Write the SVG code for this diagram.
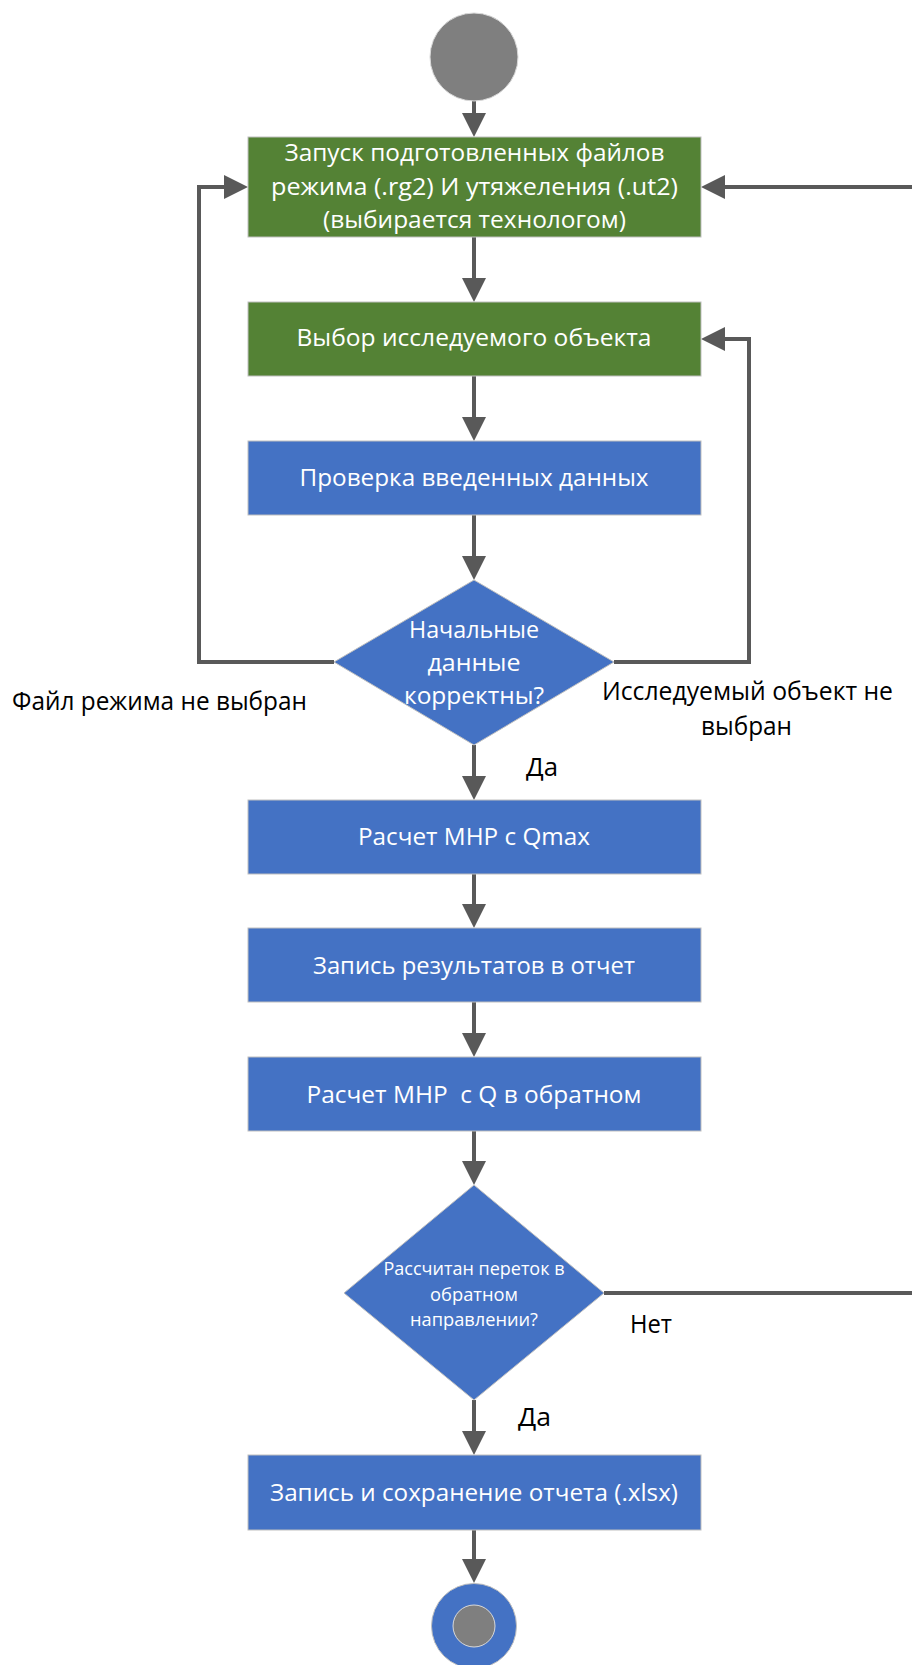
<svg xmlns="http://www.w3.org/2000/svg" width="912" height="1665" viewBox="0 0 912 1665">
<style>
.green{fill:#548235;stroke:#bfbfbf;stroke-width:1}
.blue{fill:#4472c4;stroke:#bfbfbf;stroke-width:1}
.nt{font-family:"Open Sans","Liberation Sans",sans-serif;font-size:23px;fill:#ffffff;text-anchor:middle}
.ds{font-family:"Open Sans","Liberation Sans",sans-serif;font-size:18px;fill:#ffffff;text-anchor:middle}
.lb{font-family:"Open Sans","Liberation Sans",sans-serif;font-size:25px;fill:#000000}
.cn{fill:none;stroke:#595959;stroke-width:4;marker-end:url(#arr)}
</style>
<defs>
<marker id="arr" markerUnits="userSpaceOnUse" markerWidth="24" markerHeight="24" refX="0" refY="12" orient="auto" overflow="visible">
<path d="M0,0 L24,12 L0,24 Z" fill="#595959"/>
</marker>
</defs>
<rect width="912" height="1665" fill="#ffffff"/>
<g id="connectors">
<path class="cn" d="M474,101 V113"/>
<path class="cn" d="M474,237 V278"/>
<path class="cn" d="M474,376 V417"/>
<path class="cn" d="M474,515 V556"/>
<path class="cn" d="M334,662 H199 V187 H224"/>
<path class="cn" d="M614,662 H749 V339 H725"/>
<path class="cn" d="M474,745 V776"/>
<path class="cn" d="M474,874 V904"/>
<path class="cn" d="M474,1002 V1033"/>
<path class="cn" d="M474,1131 V1161"/>
<path class="cn" d="M604,1293 H940 V187 H725"/>
<path class="cn" d="M474,1400 V1431"/>
<path class="cn" d="M474,1530 V1559"/>
</g>
<g id="start">
<circle cx="474" cy="57" r="44" fill="#7f7f7f" stroke="#d9d9d9" stroke-width="1"/>
</g>
<g id="n1">
<rect class="green" x="248" y="137" width="453" height="100"/>
<text class="nt" x="474.5" y="161" textLength="380" lengthAdjust="spacingAndGlyphs">Запуск подготовленных файлов</text>
<text class="nt" x="474.5" y="195" textLength="407" lengthAdjust="spacingAndGlyphs">режима (.rg2) И утяжеления (.ut2)</text>
<text class="nt" x="474.5" y="228" textLength="303" lengthAdjust="spacingAndGlyphs">(выбирается технологом)</text>
</g>
<g id="n2">
<rect class="green" x="248" y="302" width="453" height="74"/>
<text class="nt" x="474" y="346" textLength="355" lengthAdjust="spacingAndGlyphs">Выбор исследуемого объекта</text>
</g>
<g id="n3">
<rect class="blue" x="248" y="441" width="453" height="74"/>
<text class="nt" x="474" y="486" textLength="349" lengthAdjust="spacingAndGlyphs">Проверка введенных данных</text>
</g>
<g id="d1">
<polygon class="blue" points="474,580 614,662 474,745 334,662"/>
<text class="nt" x="474" y="638" textLength="130" lengthAdjust="spacingAndGlyphs">Начальные</text>
<text class="nt" x="474" y="671" textLength="93" lengthAdjust="spacingAndGlyphs">данные</text>
<text class="nt" x="474" y="704" textLength="140" lengthAdjust="spacingAndGlyphs">корректны?</text>
</g>
<g id="labels">
<text class="lb" x="12" y="710" textLength="295" lengthAdjust="spacingAndGlyphs">Файл режима не выбран</text>
<text class="lb" x="602" y="700" textLength="291" lengthAdjust="spacingAndGlyphs">Исследуемый объект не</text>
<text class="lb" x="701" y="735" textLength="91" lengthAdjust="spacingAndGlyphs">выбран</text>
<text class="lb" x="526" y="776" textLength="32" lengthAdjust="spacingAndGlyphs">Да</text>
<text class="lb" x="630" y="1333" textLength="42" lengthAdjust="spacingAndGlyphs">Нет</text>
<text class="lb" x="518" y="1426" textLength="33" lengthAdjust="spacingAndGlyphs">Да</text>
</g>
<g id="n4">
<rect class="blue" x="248" y="800" width="453" height="74"/>
<text class="nt" x="474" y="845" textLength="232" lengthAdjust="spacingAndGlyphs">Расчет МНР с Qmax</text>
</g>
<g id="n5">
<rect class="blue" x="248" y="928" width="453" height="74"/>
<text class="nt" x="474" y="974" textLength="322" lengthAdjust="spacingAndGlyphs">Запись результатов в отчет</text>
</g>
<g id="n6">
<rect class="blue" x="248" y="1057" width="453" height="74"/>
<text class="nt" x="474" y="1103" textLength="335" lengthAdjust="spacingAndGlyphs" xml:space="preserve">Расчет МНР  с Q в обратном</text>
</g>
<g id="d2">
<polygon class="blue" points="474,1185 604,1293 474,1400 344,1293"/>
<text class="ds" x="474" y="1275" textLength="181" lengthAdjust="spacingAndGlyphs">Рассчитан переток в</text>
<text class="ds" x="474" y="1301" textLength="88" lengthAdjust="spacingAndGlyphs">обратном</text>
<text class="ds" x="474" y="1326" textLength="128" lengthAdjust="spacingAndGlyphs">направлении?</text>
</g>
<g id="n7">
<rect class="blue" x="248" y="1455" width="453" height="75"/>
<text class="nt" x="474" y="1501" textLength="408" lengthAdjust="spacingAndGlyphs">Запись и сохранение отчета (.xlsx)</text>
</g>
<g id="end">
<circle cx="474" cy="1626" r="42.5" fill="#4472c4" stroke="#bfbfbf" stroke-width="1"/>
<circle cx="474" cy="1626" r="21" fill="#7f7f7f" stroke="#d9d9d9" stroke-width="1"/>
</g>
</svg>
